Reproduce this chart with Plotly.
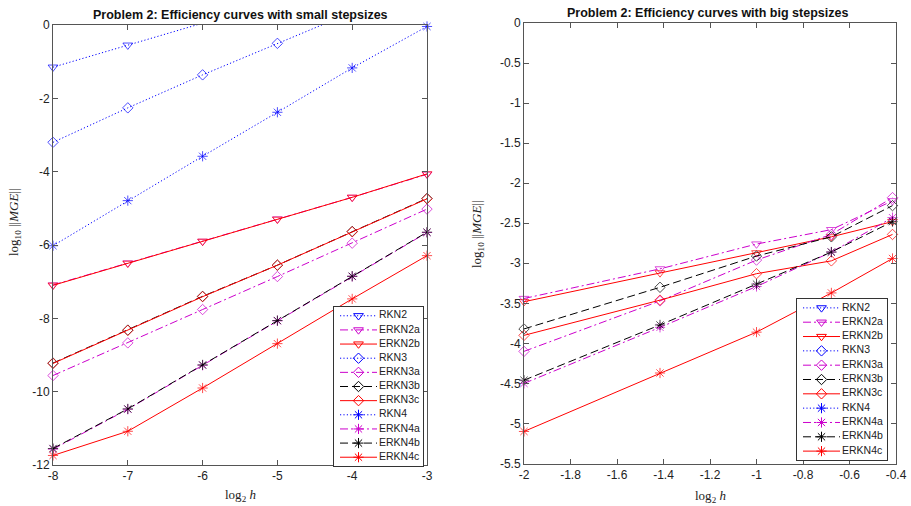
import plotly.graph_objects as go

# ---------------- data ----------------
series_names = ["RKN2", "ERKN2a", "ERKN2b", "RKN3", "ERKN3a", "ERKN3b",
                "ERKN3c", "RKN4", "ERKN4a", "ERKN4b", "ERKN4c"]

# small stepsizes (left panel)
small_log2h = [-8, -7, -6, -5, -4, -3]
small_RKN2 = [-1.15, -0.55, 0.05, 0.60, 1.20, 1.80]
small_ERKN2a = [-7.09, -6.49, -5.90, -5.29, -4.70, -4.07]
small_ERKN2b = [-7.10, -6.50, -5.90, -5.30, -4.70, -4.06]
small_RKN3 = [-3.20, -2.26, -1.36, -0.50, 0.35, 1.20]
small_ERKN3a = [-9.56, -8.67, -7.76, -6.86, -5.95, -5.02]
small_ERKN3b = [-9.22, -8.32, -7.40, -6.55, -5.63, -4.73]
small_ERKN3c = [-9.23, -8.33, -7.41, -6.55, -5.64, -4.74]
small_RKN4 = [-6.02, -4.79, -3.58, -2.38, -1.17, -0.04]
small_ERKN4a = [-11.57, -10.48, -9.28, -8.07, -6.86, -5.66]
small_ERKN4b = [-11.55, -10.47, -9.27, -8.06, -6.85, -5.65]
small_ERKN4c = [-11.74, -11.08, -9.90, -8.69, -7.47, -6.29]

# big stepsizes (right panel); RKN methods lie outside the plotted range
big_log2h = [-2.0, -1.415, -1.0, -0.678, -0.415]
big_RKN2 = [None, None, None, None, None]
big_ERKN2a = [-3.44, -3.07, -2.76, -2.58, -2.22]
big_ERKN2b = [-3.48, -3.12, -2.87, -2.67, -2.48]
big_RKN3 = [None, None, None, None, None]
big_ERKN3a = [-4.10, -3.47, -2.96, -2.64, -2.18]
big_ERKN3b = [-3.82, -3.30, -2.91, -2.67, -2.28]
big_ERKN3c = [-3.90, -3.46, -3.13, -2.97, -2.64]
big_RKN4 = [None, None, None, None, None]
big_ERKN4a = [-4.50, -3.80, -3.29, -2.86, -2.43]
big_ERKN4b = [-4.46, -3.77, -3.26, -2.86, -2.48]
big_ERKN4c = [-5.10, -4.37, -3.86, -3.37, -2.94]

small_series = [small_RKN2, small_ERKN2a, small_ERKN2b, small_RKN3, small_ERKN3a,
                small_ERKN3b, small_ERKN3c, small_RKN4, small_ERKN4a, small_ERKN4b,
                small_ERKN4c]
big_series = [big_RKN2, big_ERKN2a, big_ERKN2b, big_RKN3, big_ERKN3a,
              big_ERKN3b, big_ERKN3c, big_RKN4, big_ERKN4a, big_ERKN4b,
              big_ERKN4c]

left_xticks = [-8, -7, -6, -5, -4, -3]
left_xticklabels = ["-8", "-7", "-6", "-5", "-4", "-3"]
left_yticks = [0, -2, -4, -6, -8, -10, -12]
left_yticklabels = ["0", "-2", "-4", "-6", "-8", "-10", "-12"]
right_xticks = [-2, -1.8, -1.6, -1.4, -1.2, -1, -0.8, -0.6, -0.4]
right_xticklabels = ["-2", "-1.8", "-1.6", "-1.4", "-1.2", "-1", "-0.8", "-0.6", "-0.4"]
right_yticks = [0, -0.5, -1, -1.5, -2, -2.5, -3, -3.5, -4, -4.5, -5, -5.5]
right_yticklabels = ["0", "-0.5", "-1", "-1.5", "-2", "-2.5", "-3", "-3.5", "-4",
                     "-4.5", "-5", "-5.5"]

# ---------------- styles ----------------
BLUE = "#0000ff"
MAG = "#cc00cc"
RED = "#ff0000"
BLK = "#000000"
DOT = "1.2px,2.2px"
DASH = "8px,4px"
DASHDOT = "8px,3px,2px,3px"
SOLID = "solid"
TRI = "triangle-down-open"
DIA = "diamond-open"
AST = "asterisk-open"

styles = [
    (BLUE, DOT, TRI), (MAG, DASHDOT, TRI), (RED, SOLID, TRI),
    (BLUE, DOT, DIA), (MAG, DASHDOT, DIA), (BLK, DASH, DIA), (RED, SOLID, DIA),
    (BLUE, DOT, AST), (MAG, DASHDOT, AST), (BLK, DASH, AST), (RED, SOLID, AST),
]
msize = {TRI: 8.5, DIA: 8, AST: 8.5}

fig = go.Figure()


def add_panel(xvals, series, xa, ya, ymax):
    for name, vals, (col, dash, sym) in zip(series_names, series, styles):
        # hide markers of points lying above the visible range
        sizes = [msize[sym] if (v is not None and v <= ymax + 0.05) else 0 for v in vals]
        fig.add_trace(go.Scatter(
            x=xvals, y=vals, name=name, mode="lines+markers",
            xaxis=xa, yaxis=ya, showlegend=False, cliponaxis=False,
            line=dict(color=col, width=1, dash=dash),
            marker=dict(symbol=sym, size=sizes, color=col, line=dict(width=1, color=col)),
        ))


add_panel(small_log2h, small_series, "x", "y", 0)
add_panel(big_log2h, big_series, "x2", "y2", 0)

# ---------------- custom legends (inset axes) ----------------
n = len(series_names)
leg_pos = list(range(n - 1, -1, -1))


def add_legend(xa, ya):
    for name, yy, (col, dash, sym) in zip(series_names, leg_pos, styles):
        fig.add_trace(go.Scatter(
            x=[6, 24.5, 43], y=[yy, yy, yy], mode="lines+markers",
            xaxis=xa, yaxis=ya, showlegend=False, hoverinfo="skip", cliponaxis=False,
            line=dict(color=col, width=1, dash=dash),
            marker=dict(symbol=sym, size=msize[sym], color=col,
                        opacity=[0, 1, 0], line=dict(width=1, color=col)),
        ))
    fig.add_trace(go.Scatter(
        x=[45] * n, y=leg_pos, mode="text", text=series_names,
        textposition="middle right", xaxis=xa, yaxis=ya, showlegend=False,
        hoverinfo="skip", cliponaxis=False,
        textfont=dict(family="Liberation Sans, Arial", size=10.5, color="#222222"),
    ))


add_legend("x3", "y3")
add_legend("x4", "y4")

W, H = 911, 506


def dx(a, b):
    return [a / W, b / W]


def dy(top, bottom):
    return [1 - bottom / H, 1 - top / H]


axis_common = dict(
    showline=True, linecolor="#555555", linewidth=1, mirror="ticks",
    ticks="inside", ticklen=5, tickcolor="#555555", tickwidth=1,
    showgrid=False, zeroline=False, automargin=False,
    tickfont=dict(family="Liberation Sans, Arial", size=12, color="#222222"),
)
legend_axis = dict(showline=True, linecolor="#333333", linewidth=1, mirror=True,
                   ticks="", showticklabels=False, showgrid=False, zeroline=False,
                   fixedrange=True, automargin=False)

fig.update_layout(
    width=W, height=H,
    margin=dict(l=0, r=0, t=0, b=0, pad=0, autoexpand=False),
    paper_bgcolor="white", plot_bgcolor="rgb(255,255,255)",
    showlegend=False,
    xaxis=dict(domain=dx(53, 427), anchor="y", range=[-8, -3],
               tickvals=left_xticks, ticktext=left_xticklabels, **axis_common),
    yaxis=dict(domain=dy(25, 465), anchor="x", range=[-12, 0],
               tickvals=left_yticks, ticktext=left_yticklabels, **axis_common),
    xaxis2=dict(domain=dx(524, 896), anchor="y2", range=[-2, -0.4],
                tickvals=right_xticks, ticktext=right_xticklabels, **axis_common),
    yaxis2=dict(domain=dy(23, 463.5), anchor="x2", range=[-5.5, 0],
                tickvals=right_yticks, ticktext=right_yticklabels, **axis_common),
    xaxis3=dict(domain=dx(334, 423), anchor="y3", range=[0, 89], **legend_axis),
    yaxis3=dict(domain=dy(307, 466), anchor="x3", range=[-0.62, 10.62], **legend_axis),
    xaxis4=dict(domain=dx(797, 887), anchor="y4", range=[0, 90], **legend_axis),
    yaxis4=dict(domain=dy(299, 460), anchor="x4", range=[-0.62, 10.62], **legend_axis),
)

title_font = dict(family="Liberation Sans, Arial", size=12.5, color="#111111")
label_font = dict(family="Liberation Serif, Times New Roman", size=13, color="#222222")
ann_common = dict(xref="paper", yref="paper", showarrow=False,
                  xanchor="center", yanchor="middle")
fig.add_annotation(text="<b>Problem 2: Efficiency curves with small stepsizes</b>",
                   x=240 / W, y=1 - 15 / H, font=title_font, **ann_common)
fig.add_annotation(text="<b>Problem 2: Efficiency curves with big stepsizes</b>",
                   x=707 / W, y=1 - 13 / H, font=title_font, **ann_common)
fig.add_annotation(text="log<sub>2</sub> <i>h</i>", x=240 / W, y=1 - 495 / H,
                   font=label_font, **ann_common)
fig.add_annotation(text="log<sub>2</sub> <i>h</i>", x=710 / W, y=1 - 496 / H,
                   font=label_font, **ann_common)
fig.add_annotation(text="log<sub>10</sub> ||<i>MGE</i>||", x=14 / W, y=1 - 222 / H,
                   textangle=-90, font=label_font, **ann_common)
fig.add_annotation(text="log<sub>10</sub> ||<i>MGE</i>||", x=477 / W, y=1 - 234 / H,
                   textangle=-90, font=label_font, **ann_common)

fig.write_html("out.html", config={"displayModeBar": False},
               post_script="document.body.style.margin='0';document.body.style.overflow='hidden';")
